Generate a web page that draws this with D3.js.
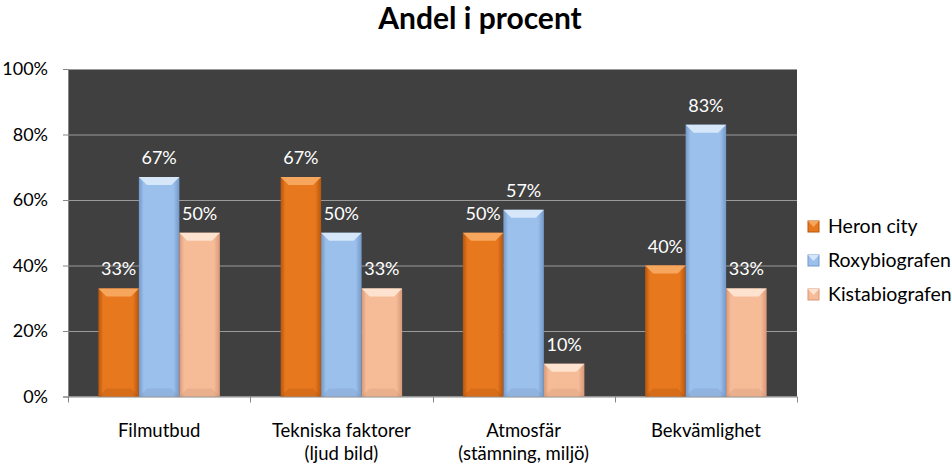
<!DOCTYPE html>
<html>
<head>
<meta charset="utf-8">
<script src="https://cdn.jsdelivr.net/npm/d3@7"></script>
<style>
  body { margin: 0; background: #fff; }
  text { font-family: Lato, "Open Sans", sans-serif; }
</style>
</head>
<body>
<svg class="chart" width="952" height="464"></svg>
<script>
// data
var categories = [["Filmutbud"], ["Tekniska faktorer", "(ljud bild)"], ["Atmosfär", "(stämning, miljö)"], ["Bekvämlighet"]];
var seriesNames = ["Heron city", "Roxybiografen", "Kistabiografen"];
var heronCity = [33, 67, 50, 40];
var roxy = [67, 50, 57, 83];
var kista = [50, 33, 10, 33];
var yTicks = [0, 20, 40, 60, 80, 100];

var seriesValues = [heronCity, roxy, kista];
var palette = [
  { mid: "#E8781E", edge: "#B8560C", top: "#F7A65E", bottom: "#A24C0A" },
  { mid: "#9CC0EC", edge: "#7599C8", top: "#D6E7FA", bottom: "#6A8DBB" },
  { mid: "#F6BC98", edge: "#D89878", top: "#FDE3CF", bottom: "#C88A6C" }
];

var svg = d3.select(".chart");
var margin = { top: 69, left: 68, bottom: 68, right: 155 };
var plotW = 797 - margin.left;
var plotH = 396.5 - margin.top;

var defs = svg.append("defs");
palette.forEach(function (p, i) {
  var g = defs.append("linearGradient").attr("id", "grad" + i)
    .attr("x1", "0").attr("x2", "1").attr("y1", "0").attr("y2", "0");
  g.append("stop").attr("offset", "0%").attr("stop-color", p.edge);
  g.append("stop").attr("offset", "12%").attr("stop-color", p.mid);
  g.append("stop").attr("offset", "85%").attr("stop-color", p.mid);
  g.append("stop").attr("offset", "100%").attr("stop-color", p.edge);
});

// title
svg.append("text")
  .attr("x", 480).attr("y", 29)
  .attr("text-anchor", "middle")
  .style("font-size", "30px").style("font-weight", "bold")
  .text("Andel i procent");

var chart = svg.append("g").attr("transform", "translate(" + margin.left + "," + margin.top + ")");

chart.append("rect").attr("width", plotW).attr("height", plotH).attr("fill", "#404040");

var x0 = d3.scaleBand().domain(d3.range(categories.length)).range([0, plotW]).paddingInner(0).paddingOuter(0);
var y = d3.scaleLinear().domain([0, 100]).range([plotH, 0]);

// gridlines
chart.selectAll(".grid").data(yTicks.slice(1)).enter().append("line")
  .attr("x1", 0).attr("x2", plotW)
  .attr("y1", function (d) { return y(d) + 0.5; }).attr("y2", function (d) { return y(d) + 0.5; })
  .attr("stroke", "#9a9a9a").attr("stroke-width", 1);

// y axis
var yAxis = d3.axisLeft(y).tickValues(yTicks).tickSize(5).tickFormat(function (d) { return d + "%"; });
var yg = chart.append("g").call(yAxis);
yg.select(".domain").attr("stroke", "#868686");
yg.selectAll(".tick line").attr("stroke", "#868686");
yg.selectAll(".tick text").attr("x", -20).style("font-size", "18px").attr("fill", "#000");

// x axis
var xg = chart.append("g").attr("transform", "translate(0," + plotH + ")");
xg.append("line").attr("x1", 0).attr("x2", plotW).attr("y1", 0.5).attr("y2", 0.5).attr("stroke", "#868686");
xg.selectAll(".xt").data(d3.range(categories.length + 1)).enter().append("line")
  .attr("x1", function (d) { return Math.round(d * x0.bandwidth()) + 0.5; })
  .attr("x2", function (d) { return Math.round(d * x0.bandwidth()) + 0.5; })
  .attr("y1", 0).attr("y2", 6).attr("stroke", "#868686");
var catLabels = xg.selectAll(".cat").data(categories).enter().append("text")
  .attr("text-anchor", "middle")
  .attr("transform", function (d, i) { return "translate(" + (x0(i) + x0.bandwidth() / 2) + ",0)"; })
  .style("font-size", "18.5px").attr("fill", "#000");
catLabels.selectAll("tspan").data(function (d) { return d; }).enter().append("tspan")
  .attr("x", 0).attr("y", function (d, j) { return 40 + j * 23; })
  .text(function (d) { return d; });

// bars
var x1 = d3.scaleBand().domain(d3.range(seriesNames.length)).range([0, x0.bandwidth()]).paddingOuter(0.75).paddingInner(0);
var bw = x1.bandwidth();
var bev = Math.min(8, bw / 4);

seriesValues.forEach(function (vals, s) {
  var p = palette[s];
  var g = chart.append("g");
  vals.forEach(function (v, c) {
    var bx = x0(c) + x1(s), by = y(v), bh = plotH - y(v);
    g.append("rect").attr("x", bx).attr("y", by).attr("width", bw).attr("height", bh).attr("fill", "url(#grad" + s + ")");
    var b = Math.min(bev, bh / 2);
    g.append("polygon")
      .attr("points", [[bx, by], [bx + bw, by], [bx + bw - b, by + b], [bx + b, by + b]].map(function (q) { return q.join(","); }).join(" "))
      .attr("fill", p.top);
    g.append("polygon")
      .attr("points", [[bx, by + bh], [bx + bw, by + bh], [bx + bw - b, by + bh - b], [bx + b, by + bh - b]].map(function (q) { return q.join(","); }).join(" "))
      .attr("fill", p.bottom).attr("opacity", 0.25);
    g.append("text")
      .attr("x", bx + bw / 2).attr("y", by - 13)
      .attr("text-anchor", "middle").attr("fill", "#fff")
      .style("font-size", "18px")
      .text(v + "%");
  });
});

// legend
var legend = svg.append("g").attr("transform", "translate(808,0)");
seriesNames.forEach(function (name, i) {
  var ly = 226 + i * 34;
  var p = palette[i];
  legend.append("rect").attr("x", 0).attr("y", ly - 5).attr("width", 11).attr("height", 11).attr("fill", p.mid).attr("stroke", p.edge);
  legend.append("polygon")
    .attr("points", [[0, ly - 5], [11, ly - 5], [5.5, ly + 1]].map(function (q) { return q.join(","); }).join(" "))
    .attr("fill", p.top);
  legend.append("text").attr("x", 20).attr("y", ly + 7).style("font-size", "19.5px").attr("fill", "#000").text(name);
});
</script>
</body>
</html>
